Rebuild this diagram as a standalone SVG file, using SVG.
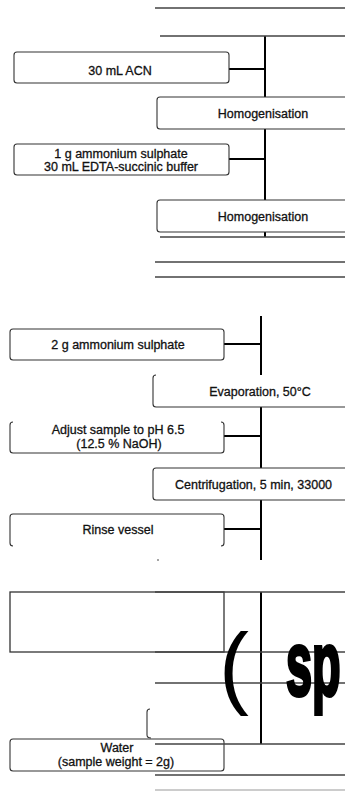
<svg xmlns="http://www.w3.org/2000/svg" width="345" height="791" viewBox="0 0 345 791">
<style>
.bg{fill:#fff}
.box{fill:#fff;stroke:#333;stroke-width:1.1}
.open{fill:none;stroke:#333;stroke-width:1.1}
.rule{stroke:#444;stroke-width:1.3;fill:none}
.rule2{stroke:#999;stroke-width:1.2;fill:none}
.conn{stroke:#000;stroke-width:2;fill:none}
.t{font-family:"Liberation Sans",Arial,sans-serif;font-size:12.5px;fill:#111;stroke:#111;stroke-width:0.3;text-anchor:middle}
.big{font-family:"Liberation Sans",Arial,sans-serif;font-size:90px;fill:#000}
</style>
<rect class="bg" x="0" y="0" width="345" height="791"/>
<g id="connectors">
<path class="conn" d="M265,36V237"/>
<path class="conn" d="M229,69H265M229,159H265"/>
<path class="conn" d="M261,316V560"/>
<path class="conn" d="M224,344H261M224,436H261M224,529H261"/>
<path class="conn" d="M261,592V744"/>
</g>
<g id="n1">
<rect class="box" x="14" y="52" width="215" height="31" rx="3"/>
<text class="t" x="120" y="75">30 mL ACN</text>
</g>
<g id="n2">
<rect class="box" x="157" y="97" width="200" height="32" rx="3"/>
<text class="t" x="263" y="118">Homogenisation</text>
</g>
<g id="n3">
<rect class="box" x="14" y="144" width="215" height="31" rx="3"/>
<text class="t" x="121" y="158">1 g ammonium sulphate</text>
<text class="t" x="121" y="171">30 mL EDTA-succinic buffer</text>
</g>
<g id="n4">
<rect class="box" x="157" y="200" width="200" height="32" rx="3"/>
<text class="t" x="263" y="221">Homogenisation</text>
</g>
<g id="n5">
<rect class="box" x="10" y="329" width="214" height="31" rx="3"/>
<text class="t" x="118" y="349">2 g ammonium sulphate</text>
</g>
<g id="n6">
<rect x="153" y="375" width="200" height="32" fill="#fff"/>
<path class="open" d="M156,375Q153,375 153,378V404Q153,407 156,407H350"/>
<text class="t" x="260" y="396">Evaporation, 50°C</text>
</g>
<g id="n7">
<rect x="10" y="422" width="214" height="31" fill="#fff"/>
<path class="open" d="M13,422Q10,422 10,425V450Q10,453 13,453H221Q224,453 224,450V425Q224,422 221,422"/>
<text class="t" x="118" y="434">Adjust sample to pH 6.5</text>
<text class="t" x="119" y="448">(12.5 % NaOH)</text>
</g>
<g id="n8">
<rect class="box" x="153" y="468" width="200" height="32" rx="3"/>
<text class="t" x="175" y="489" style="text-anchor:start">Centrifugation, 5 min, 33000</text>
</g>
<g id="n9">
<rect x="10" y="514" width="214" height="32" fill="#fff"/>
<path class="open" d="M13,546Q10,546 10,543V517Q10,514 13,514H221Q224,514 224,517V543Q224,546 221,546"/>
<text class="t" x="118" y="534">Rinse vessel</text>
</g>
<circle cx="158" cy="560" r="0.8" fill="#333"/>
<g id="n10">
<rect class="box" x="10" y="592" width="214" height="60" style="stroke-width:1.3"/>
</g>
<g id="n11">
<path class="open" d="M150,709Q147,709 147,712V735Q147,738 151,738"/>
</g>
<g id="n12">
<rect class="box" x="10" y="739" width="214" height="32" rx="3"/>
<text class="t" x="117" y="752">Water</text>
<text class="t" x="116" y="766">(sample weight = 2g)</text>
</g>
<g id="rules">
<path class="rule" d="M155,8H345M160,36H345M160,237H345M155,262H345M155,277H345"/>
<path class="rule" d="M155,592H345M155,652H345M155,683H345M155,744H345M155,775H345"/>
<path class="rule2" d="M155,790H345"/>
</g>
<g id="bigtext">
<text class="big" x="219" y="697">(</text>
<text class="big" transform="translate(286,695) scale(0.52,1)" style="font-weight:bold;stroke:#000;stroke-width:4">sp</text>
</g>
</svg>
